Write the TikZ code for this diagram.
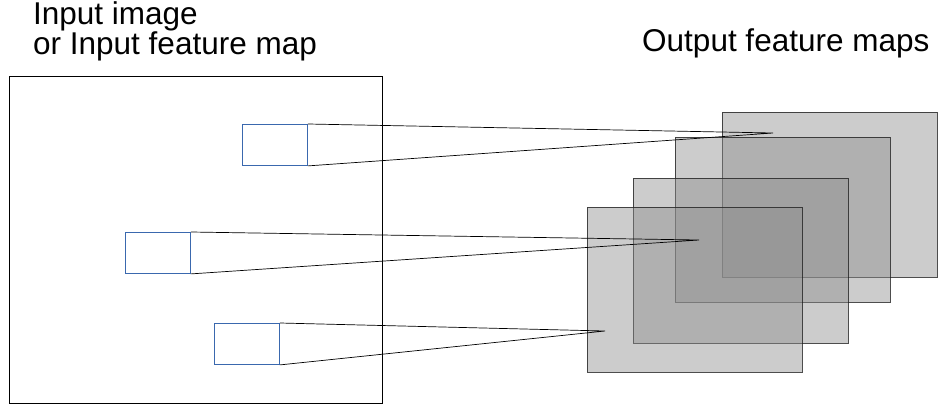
\documentclass[tikz,border=0pt]{standalone}
\usepackage{fontspec}
\setmainfont{Liberation Sans}
\definecolor{ink}{HTML}{000000}
\definecolor{patch}{HTML}{3A68AE}
\definecolor{mapedge}{HTML}{202020}
\definecolor{mapfill}{HTML}{8E8E8E}
\newcommand{\caplbl}{\fontsize{31.5}{38}\selectfont}
\begin{document}
\begin{tikzpicture}[x=1pt,y=-1pt,font=\caplbl,
  patchbox/.style={draw=patch,line width=0.9pt,inner sep=0,minimum width=65pt,minimum height=41pt,anchor=north west},
  fmap/.style={draw=mapedge,line width=0.9pt,fill=mapfill,fill opacity=0.45,draw opacity=0.8,inner sep=0,minimum width=215pt,minimum height=165pt,anchor=north west},
  ray/.style={ink,line width=0.7pt}]
\useasboundingbox (0,0) rectangle (947,409);
% input plane
\node[draw=ink,line width=0.8pt,inner sep=0,minimum width=373pt,minimum height=327pt,anchor=north west] (inp) at (9,76) {};
\node[anchor=base west,inner sep=0] (inlbl) at (33,24.5) {Input image};
\node[anchor=base west,inner sep=0] (inlblb) at (33,55) {or Input feature map};
\node[anchor=base west,inner sep=0] (outlbl) at (642,52) {Output feature maps};
% stacked output maps, back to front
\node[fmap] (m1) at (722,112) {};
\node[fmap] (m2) at (675,137) {};
\node[fmap] (m3) at (633,178) {};
\node[fmap] (m4) at (587,207) {};
% receptive patches
\node[patchbox] (p1) at (242,124) {};
\node[patchbox] (p2) at (125,232) {};
\node[patchbox] (p3) at (214,323) {};
\coordinate (f1) at (773,133);
\coordinate (f2) at (699,240);
\coordinate (f3) at (605,331);
\draw[ray] (p1.north east) -- (f1) -- (p1.south east);
\draw[ray] (p2.north east) -- (f2) -- (p2.south east);
\draw[ray] (p3.north east) -- (f3) -- (p3.south east);
\end{tikzpicture}
\end{document}
